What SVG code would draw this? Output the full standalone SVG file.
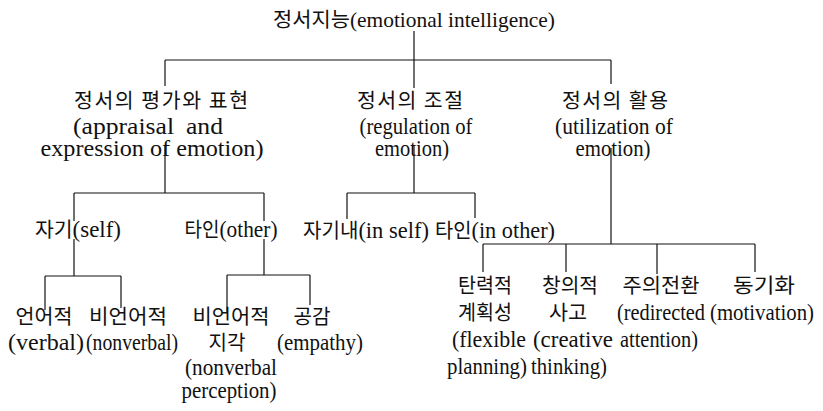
<svg xmlns="http://www.w3.org/2000/svg" width="823" height="411" viewBox="0 0 823 411">
<style>
.t{font-family:"Liberation Serif","Noto Sans CJK KR",serif;font-size:23px;text-anchor:middle;fill:#111}
.r{font-size:21px}
.k{font-family:"Noto Sans CJK KR","Liberation Serif",sans-serif;font-size:20.5px}
.w{word-spacing:5px}
.c line{stroke:#111;stroke-width:1.2;fill:none}
</style>
<rect width="823" height="411" fill="#fff"/>
<g id="connectors" class="c">
<line x1="414" y1="31" x2="414" y2="88"/>
<line x1="165" y1="60" x2="611" y2="60"/>
<line x1="165" y1="60" x2="165" y2="86"/>
<line x1="611" y1="60" x2="611" y2="84"/>
<line x1="165" y1="146" x2="165" y2="193"/>
<line x1="74" y1="193" x2="264" y2="193"/>
<line x1="74" y1="193" x2="74" y2="221"/>
<line x1="74" y1="239" x2="74" y2="276"/>
<line x1="264" y1="193" x2="264" y2="221"/>
<line x1="264" y1="239" x2="264" y2="275"/>
<line x1="45" y1="276" x2="121" y2="276"/>
<line x1="45" y1="276" x2="45" y2="310"/>
<line x1="121" y1="276" x2="121" y2="308"/>
<line x1="227" y1="275" x2="310" y2="275"/>
<line x1="227" y1="275" x2="227" y2="312"/>
<line x1="310" y1="275" x2="310" y2="305"/>
<line x1="414" y1="146" x2="414" y2="193"/>
<line x1="347" y1="193" x2="475" y2="193"/>
<line x1="347" y1="193" x2="347" y2="219"/>
<line x1="475" y1="193" x2="475" y2="218"/>
<line x1="611" y1="148" x2="611" y2="244"/>
<line x1="483" y1="244" x2="755" y2="244"/>
<line x1="483" y1="244" x2="483" y2="272"/>
<line x1="566" y1="244" x2="566" y2="272"/>
<line x1="657" y1="244" x2="657" y2="274"/>
<line x1="755" y1="244" x2="755" y2="272"/>
</g>
<g id="root"><text class="t r" x="414" y="27" textLength="282" lengthAdjust="spacingAndGlyphs"><tspan class="k">정서지능</tspan>(emotional intelligence)</text></g>
<g id="appraisal">
<text class="t k" x="161" y="108" textLength="174" lengthAdjust="spacing">정서의 평가와 표현</text>
<text class="t w" x="148" y="134" textLength="150" lengthAdjust="spacingAndGlyphs">(appraisal and</text>
<text class="t" x="152" y="156" textLength="223" lengthAdjust="spacingAndGlyphs">expression of emotion)</text>
</g>
<g id="regulation">
<text class="t k" x="410" y="108" textLength="106" lengthAdjust="spacing">정서의 조절</text>
<text class="t" x="416" y="134" textLength="113" lengthAdjust="spacingAndGlyphs">(regulation of</text>
<text class="t" x="412" y="156" textLength="74" lengthAdjust="spacingAndGlyphs">emotion)</text>
</g>
<g id="utilization">
<text class="t k" x="615" y="108" textLength="106" lengthAdjust="spacing">정서의 활용</text>
<text class="t" x="614" y="134" textLength="118" lengthAdjust="spacingAndGlyphs">(utilization of</text>
<text class="t" x="613" y="156" textLength="75" lengthAdjust="spacingAndGlyphs">emotion)</text>
</g>
<g id="self"><text class="t" x="78" y="237" textLength="86" lengthAdjust="spacingAndGlyphs"><tspan class="k">자기</tspan>(self)</text></g>
<g id="other"><text class="t" x="231" y="237" textLength="93" lengthAdjust="spacingAndGlyphs"><tspan class="k">타인</tspan>(other)</text></g>
<g id="inself"><text class="t" x="366" y="238" textLength="126" lengthAdjust="spacingAndGlyphs"><tspan class="k">자기내</tspan>(in self)</text></g>
<g id="inother"><text class="t" x="495" y="238" textLength="120" lengthAdjust="spacingAndGlyphs"><tspan class="k">타인</tspan>(in other)</text></g>
<g id="verbal">
<text class="t k" x="44" y="324" textLength="57" lengthAdjust="spacingAndGlyphs">언어적</text>
<text class="t" x="46" y="350" textLength="76" lengthAdjust="spacingAndGlyphs">(verbal)</text>
</g>
<g id="nonverbal">
<text class="t k" x="128" y="324" textLength="78" lengthAdjust="spacingAndGlyphs">비언어적</text>
<text class="t" x="132" y="350" textLength="92" lengthAdjust="spacingAndGlyphs">(nonverbal)</text>
</g>
<g id="nonverbal-perception">
<text class="t k" x="231" y="324" textLength="77" lengthAdjust="spacingAndGlyphs">비언어적</text>
<text class="t k" x="227" y="350" textLength="37" lengthAdjust="spacingAndGlyphs">지각</text>
<text class="t" x="231" y="375" textLength="92" lengthAdjust="spacingAndGlyphs">(nonverbal</text>
<text class="t" x="229" y="398" textLength="95" lengthAdjust="spacingAndGlyphs">perception)</text>
</g>
<g id="empathy">
<text class="t k" x="312" y="324" textLength="37" lengthAdjust="spacingAndGlyphs">공감</text>
<text class="t" x="320" y="350" textLength="86" lengthAdjust="spacingAndGlyphs">(empathy)</text>
</g>
<g id="flexible-planning">
<text class="t k" x="485" y="293" textLength="54" lengthAdjust="spacingAndGlyphs">탄력적</text>
<text class="t k" x="485" y="320" textLength="54" lengthAdjust="spacingAndGlyphs">계획성</text>
<text class="t" x="489" y="347" textLength="74" lengthAdjust="spacingAndGlyphs">(flexible</text>
<text class="t" x="487" y="374" textLength="80" lengthAdjust="spacingAndGlyphs">planning)</text>
</g>
<g id="creative-thinking">
<text class="t k" x="570" y="293" textLength="56" lengthAdjust="spacingAndGlyphs">창의적</text>
<text class="t k" x="568" y="320" textLength="38" lengthAdjust="spacingAndGlyphs">사고</text>
<text class="t" x="573" y="347" textLength="80" lengthAdjust="spacingAndGlyphs">(creative</text>
<text class="t" x="569" y="374" textLength="76" lengthAdjust="spacingAndGlyphs">thinking)</text>
</g>
<g id="redirected-attention">
<text class="t k" x="661" y="293" textLength="77" lengthAdjust="spacingAndGlyphs">주의전환</text>
<text class="t" x="661" y="320" textLength="88" lengthAdjust="spacingAndGlyphs">(redirected</text>
<text class="t" x="659" y="347" textLength="78" lengthAdjust="spacingAndGlyphs">attention)</text>
</g>
<g id="motivation">
<text class="t k" x="764" y="293" textLength="62" lengthAdjust="spacingAndGlyphs">동기화</text>
<text class="t" x="762" y="320" textLength="104" lengthAdjust="spacingAndGlyphs">(motivation)</text>
</g>
</svg>
